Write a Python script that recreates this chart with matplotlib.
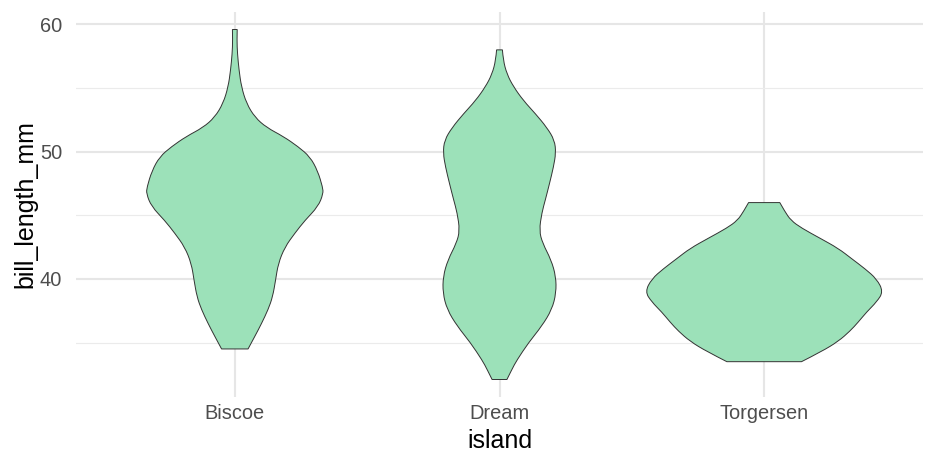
import numpy as np
import matplotlib.pyplot as plt
from matplotlib.path import Path
from matplotlib.patches import PathPatch

plt.rcParams['font.family'] = ['Liberation Sans', 'DejaVu Sans']

islands = ['Biscoe', 'Dream', 'Torgersen']

# violin outlines: bill length (mm) and half width (x units)
biscoe_y = [59.6, 58.75, 57.7, 56.4, 55.1, 53.8, 52.7, 51.9, 51.2, 50.4, 49.6, 48.5,
            47.2, 46.7, 45.7, 44.6, 43.6, 42.5, 41.2, 39.9, 38.6, 37.6, 36.5, 35.5, 34.5]
biscoe_w = [0.009, 0.008, 0.010, 0.016, 0.025, 0.044, 0.076, 0.120, 0.183, 0.239, 0.284, 0.313,
            0.332, 0.334, 0.315, 0.265, 0.227, 0.189, 0.164, 0.154, 0.143, 0.126, 0.101, 0.076, 0.050]

dream_y = [58.0, 57.2, 56.1, 55.1, 54.0, 53.0, 51.9, 50.9, 49.9, 48.8, 47.5, 46.2,
           45.2, 43.8, 42.8, 41.5, 40.2, 38.9, 37.6, 36.3, 35.0, 33.6, 32.9, 32.1]
dream_w = [0.011, 0.014, 0.028, 0.053, 0.091, 0.135, 0.179, 0.208, 0.213, 0.204, 0.189, 0.173,
           0.160, 0.150, 0.163, 0.195, 0.213, 0.214, 0.198, 0.160, 0.110, 0.065, 0.047, 0.028]

torgersen_y = [46.0, 45.3, 44.6, 44.0, 43.2, 42.4, 41.6, 40.8, 40.0, 39.0, 38.2, 37.4,
               36.6, 35.9, 35.1, 34.3, 33.5]
torgersen_w = [0.059, 0.078, 0.101, 0.141, 0.211, 0.280, 0.330, 0.381, 0.425, 0.450, 0.425, 0.387,
               0.355, 0.324, 0.280, 0.217, 0.141]

violins = [(biscoe_y, biscoe_w), (dream_y, dream_w), (torgersen_y, torgersen_w)]


def smooth_side(pts):
    # quadratic b-spline through the outline points, ends kept exact
    verts, codes = [], []
    for i in range(1, len(pts) - 1):
        end = pts[i + 1] if i == len(pts) - 2 else (pts[i] + pts[i + 1]) / 2
        verts += [pts[i], end]
        codes += [Path.CURVE3, Path.CURVE3]
    return verts, codes


def violin_path(x0, y, w):
    y = np.array(y)
    w = np.array(w)
    right = np.column_stack([x0 + w, y])[::-1]   # bottom -> top
    left = np.column_stack([x0 - w, y])          # top -> bottom
    verts, codes = [right[0]], [Path.MOVETO]
    v, c = smooth_side(right)
    verts += v; codes += c
    verts.append(left[0]); codes.append(Path.LINETO)
    v, c = smooth_side(left)
    verts += v; codes += c
    verts.append(right[0]); codes.append(Path.CLOSEPOLY)
    return Path(verts, codes)


fig = plt.figure(figsize=(9.36, 4.68), dpi=100)
ax = fig.add_axes([76/936, 71/468, 847/936, 385/468])

for i, (y, w) in enumerate(violins):
    patch = PathPatch(violin_path(i + 1, y, w), facecolor='#9CE1B9',
                      edgecolor='#333333', lw=0.7, zorder=3)
    ax.add_patch(patch)

ax.set_xlim(0.4, 3.6)
ax.set_ylim(30.725, 60.975)
ax.set_xticks([1, 2, 3])
ax.set_xticklabels(islands)
ax.set_yticks([40, 50, 60])
ax.set_yticks([35, 45, 55], minor=True)

ax.grid(which='major', color='#E6E6E6', lw=1.5)
ax.grid(which='minor', axis='y', color='#EBEBEB', lw=0.8)
ax.set_axisbelow(True)
for s in ax.spines.values():
    s.set_visible(False)

ax.tick_params(which='both', length=0, labelsize=14.4, labelcolor='#4D4D4D')
ax.tick_params(axis='x', pad=5)
ax.tick_params(axis='y', pad=10)
ax.set_xlabel('island', fontsize=18, labelpad=4)
ax.set_ylabel('bill_length_mm', fontsize=18, labelpad=2)

plt.savefig('out.png', dpi=100)
